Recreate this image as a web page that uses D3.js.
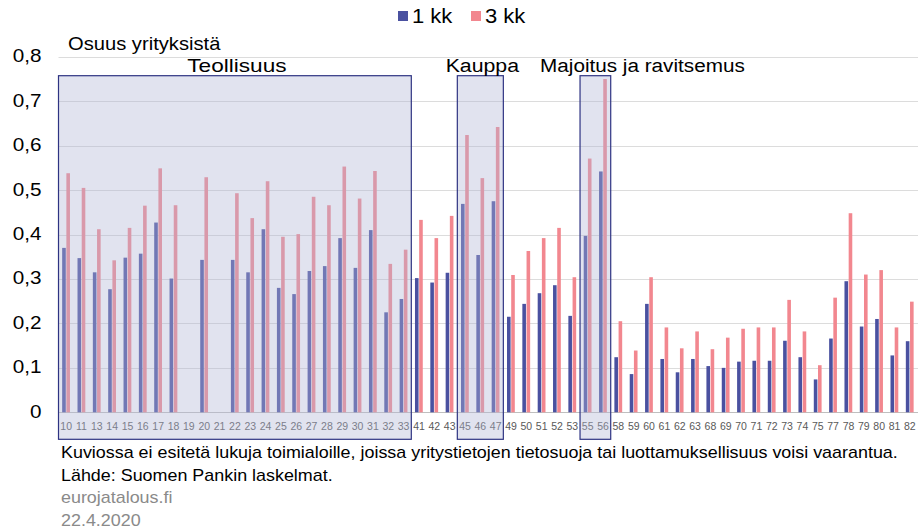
<!DOCTYPE html>
<html>
<head>
<meta charset="utf-8">
<script src="https://cdn.jsdelivr.net/npm/d3@7"></script>
<style>
  body { margin: 0; background: #fff; }
  svg text { font-family: "Liberation Sans", Arial, sans-serif; }
</style>
</head>
<body>
<div id="chart"></div>
<script>
// toimialat (TOL 2-numerotaso)
const categories = ["10","11","13","14","15","16","17","18","19","20","21","22","23","24","25","26","27","28","29","30","31","32","33",
  "41","42","43","45","46","47","49","50","51","52","53","55","56",
  "58","59","60","61","62","63","68","69","70","71","72","73","74","75","77","78","79","80","81","82"];

// 1 kk, null = not shown
const oneMonth = [0.370,0.347,0.315,0.277,0.348,0.357,0.427,0.301,null,0.343,null,0.343,0.315,0.412,0.280,0.266,0.318,0.329,0.392,0.325,0.410,0.225,0.255,
  0.302,0.292,0.314,0.469,0.354,0.475,0.215,0.244,0.268,0.286,0.217,0.397,0.542,
  0.124,0.086,0.244,0.120,0.090,0.120,0.104,0.100,0.114,0.116,0.116,0.161,0.124,0.074,0.166,0.295,0.193,0.210,0.128,0.160];

// 3 kk
const threeMonths = [0.538,0.505,0.412,0.342,0.415,0.465,0.549,0.466,null,0.529,null,0.493,0.437,0.520,0.395,0.401,0.485,0.466,0.553,0.481,0.543,0.334,0.366,
  0.433,0.392,0.442,0.624,0.527,0.642,0.309,0.363,0.392,0.415,0.304,0.571,0.750,
  0.205,0.139,0.304,0.191,0.144,0.182,0.142,0.168,0.188,0.191,0.191,0.253,0.182,0.106,0.258,0.448,0.310,0.320,0.191,0.249];

const yTicks = [0, 0.1, 0.2, 0.3, 0.4, 0.5, 0.6, 0.7, 0.8];

const sectionNames = ["Teollisuus", "Kauppa", "Majoitus ja ravitsemus"];
const sectionFirst = ["10", "45", "55"];
const sectionLast = ["33", "47", "56"];

const seriesNames = ["1 kk", "3 kk"];

const footLines = [
  "Kuviossa ei esitetä lukuja toimialoille, joissa yritystietojen tietosuoja tai luottamuksellisuus voisi vaarantua.",
  "Lähde: Suomen Pankin laskelmat."
];
const sourceLines = ["eurojatalous.fi", "22.4.2020"];

const width = 918;
const height = 532;
const blue = "#4a51a0";
const pink = "#f2878f";

const svg = d3.select("#chart").append("svg")
  .attr("width", width)
  .attr("height", height);

const x = d3.scaleBand().domain(categories).range([58.5, 917.5]).padding(0);
const y = d3.scaleLinear().domain([0, 0.8]).range([412.3, 56.8]);

// text that is a bit wider than the font (the original is stretched)
const wideText = function(g, str, px, py, size, sx, anchor) {
  return g.append("text")
    .attr("transform", `translate(${px},${py}) scale(${sx},1)`)
    .attr("text-anchor", anchor || "start")
    .style("font-size", size + "px")
    .text(str);
};

// gridlines
svg.append("g").selectAll("line")
  .data(yTicks)
  .join("line")
  .attr("x1", 58.5)
  .attr("x2", width)
  .attr("y1", d => Math.round(y(d)) + 0.5)
  .attr("y2", d => Math.round(y(d)) + 0.5)
  .attr("stroke", d => d === 0 ? "#bfbfbf" : "#dcdcdc")
  .attr("stroke-width", 1);

// y tick labels
const yLab = svg.append("g");
yTicks.forEach(t => {
  wideText(yLab, d3.format(".1f")(t).replace(".", ",").replace(/^0,0$/, "0"), 41.5, y(t) + 5.5, 18, 1.15, "end");
});

wideText(svg, "Osuus yrityksistä", 68, 49.5, 18, 1.12);

// bars
const barW = 3.6;
const bars = svg.append("g");
bars.selectAll("rect.b1")
  .data(categories.map((c, i) => ({ c, v: oneMonth[i] })).filter(d => d.v != null))
  .join("rect")
  .attr("class", "b1")
  .attr("x", d => x(d.c) + x.bandwidth() / 2 - barW - 0.4)
  .attr("width", barW)
  .attr("y", d => y(d.v))
  .attr("height", d => y(0) - y(d.v))
  .attr("fill", blue);

bars.selectAll("rect.b3")
  .data(categories.map((c, i) => ({ c, v: threeMonths[i] })).filter(d => d.v != null))
  .join("rect")
  .attr("class", "b3")
  .attr("x", d => x(d.c) + x.bandwidth() / 2 + 0.2)
  .attr("width", barW)
  .attr("y", d => y(d.v))
  .attr("height", d => y(0) - y(d.v))
  .attr("fill", pink);

// x labels
svg.append("g").selectAll("text")
  .data(categories)
  .join("text")
  .attr("x", d => x(d) + x.bandwidth() / 2)
  .attr("y", 430)
  .attr("text-anchor", "middle")
  .style("font-size", "10.5px")
  .attr("fill", "#595959")
  .text(d => d);

// highlighted sector boxes, drawn over the bars
const boxes = svg.append("g");
sectionNames.forEach((name, i) => {
  const x0 = x(sectionFirst[i]);
  const x1 = x(sectionLast[i]) + x.bandwidth();
  boxes.append("rect")
    .attr("x", x0)
    .attr("y", 75.7)
    .attr("width", x1 - x0)
    .attr("height", 439.3 - 75.7)
    .attr("fill", "rgb(178,183,214)")
    .attr("fill-opacity", 0.39)
    .attr("stroke", "#2e3382")
    .attr("stroke-width", 1.2);
  // Majoitus label sits right of its narrow box
  if (i === 2) {
    wideText(svg, name, x0 - 40, 72, 19, 1.09, "start");
  } else {
    wideText(svg, name, (x0 + x1) / 2 + 2, 72, 19, i === 0 ? 1.19 : 1.12, "middle");
  }
});

// legend
const legend = svg.append("g");
const legendX = [398, 471];
seriesNames.forEach((name, i) => {
  legend.append("rect")
    .attr("x", legendX[i])
    .attr("y", 11)
    .attr("width", 10)
    .attr("height", 10)
    .attr("fill", i === 0 ? blue : pink);
  wideText(legend, name, legendX[i] + 14, 22.5, 20, 1.1);
});

// footnotes
footLines.forEach((l, i) => {
  wideText(svg, l, 61, 458 + i * 22.5, 16, 1.12);
});
sourceLines.forEach((l, i) => {
  wideText(svg, l, 61, 503 + i * 23, 16, 1.12).attr("fill", "#8a8a8a");
});
</script>
</body>
</html>
